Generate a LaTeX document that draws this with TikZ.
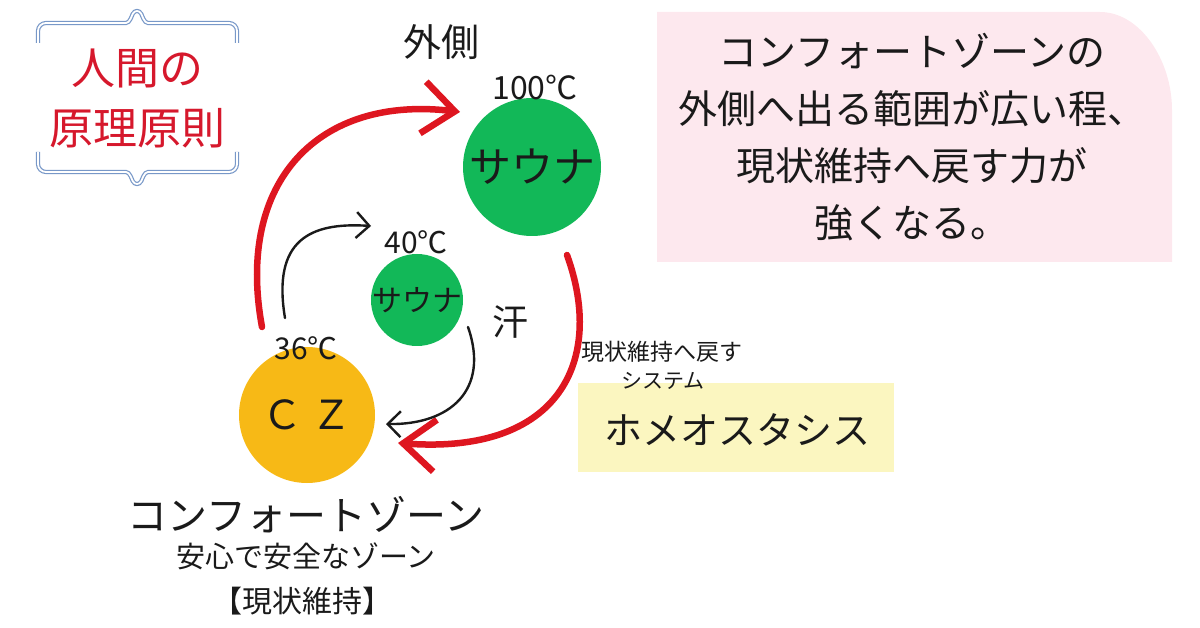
\documentclass[tikz,border=0pt]{standalone}
\usepackage{fontspec}
\setmainfont{Noto Sans CJK JP}
\usepackage{xcolor}
\usetikzlibrary{arrows.meta}

\definecolor{saunagreen}{RGB}{18,184,88}
\definecolor{czyellow}{RGB}{247,185,22}
\definecolor{loopred}{RGB}{222,22,32}
\definecolor{titlered}{RGB}{214,24,44}
\definecolor{frameblue}{RGB}{120,152,200}
\definecolor{notepink}{RGB}{253,232,238}
\definecolor{notebox}{RGB}{251,246,192}
\definecolor{ink}{RGB}{26,26,26}

\newcommand{\fsz}[1]{\fontsize{#1}{1.2\dimexpr#1pt\relax}\selectfont}

\begin{document}
\begin{tikzpicture}[x=1pt,y=-1pt,
	every node/.style={inner sep=0pt,text=ink},
	txt/.style={font=\fsz{#1}},
	zone/.style={circle,fill=#1,draw=none},
	redloop/.style={draw=loopred,line width=6.5pt,line cap=round,
		-{Straight Barb[length=32pt,width=52pt,line width=6.5pt]}},
	blackloop/.style={draw=ink,line width=2.4pt,line cap=round,
		-{Straight Barb[length=13pt,width=26pt,line width=2.4pt]}},
	frameline/.style={draw=frameblue,line width=1.2pt,double=white,double distance=1.8pt,rounded corners=8pt}
	]
	\useasboundingbox (0,0) rectangle (1200,628);
	%
	% title frame
	\draw[frameline] (38,43) -- (38,23) -- (118,23)
		.. controls (130,23) and (132,15) .. (137,7)
		.. controls (142,15) and (144,23) .. (156,23)
		-- (237,23) -- (237,43);
	\draw[frameline] (38,152) -- (38,172) -- (118,172)
		.. controls (130,172) and (132,180) .. (137,188)
		.. controls (142,180) and (144,172) .. (156,172)
		-- (237,172) -- (237,152);
	\node[txt=44,text=titlered] (title1) at (137,68) {人間の};
	\node[txt=44,text=titlered] (title2) at (137,128) {原理原則};
	%
	% note boxes
	\fill[notepink] (657,12) -- (1100,12) .. controls (1140,12) and (1172,60) .. (1172,110)
		-- (1172,262) -- (657,262) -- cycle;
	\node[align=center,font=\fontsize{39}{57}\selectfont] (note) at (912,137)
		{コンフォートゾーンの\\外側へ出る範囲が広い程、\\現状維持へ戻す力が\\強くなる。};
	\fill[notebox] (578,383) rectangle (894,472);
	\node[txt=38] (homeo) at (737,430) {ホメオスタシス};
	\node[txt=23] (back) at (662,352) {現状維持へ戻す};
	\node[txt=21] (system) at (663,381) {システム};
	%
	% zones
	\node[zone=saunagreen,minimum size=138pt] (hot) at (532,167) {};
	\node[txt=42] at (hot) {サウナ};
	\node[zone=saunagreen,minimum size=92pt] (warm) at (417,300) {};
	\node[txt=30] at (warm) {サウナ};
	\node[zone=czyellow,minimum size=136pt] (cz) at (307,415) {};
	\node[txt=40] at (cz) {Ｃ Ｚ};
	%
	\node[txt=38] (outside) at (441,42) {外側};
	\node[txt=32] (t100) at (535,88) {100℃};
	\node[txt=30] (t40) at (416,242) {40℃};
	\node[txt=30] (t36) at (306,348) {36℃};
	\node[txt=36] (sweat) at (510,322) {汗};
	%
	\node[txt=40] (czname) at (306,515) {コンフォートゾーン};
	\node[txt=29] (czsafe) at (306,556) {安心で安全なゾーン};
	\node[txt=30] (czkeep) at (302,601) {【現状維持】};
	%
	% loops
	\coordinate (r1s) at (262,327);
	\coordinate (r1e) at (460,112);
	\coordinate (r2s) at (567,255);
	\coordinate (r2e) at (398,443);
	\coordinate (b1s) at (285,318);
	\coordinate (b1e) at (371,226);
	\coordinate (b2s) at (468,327);
	\coordinate (b2e) at (386,424);
	\draw[redloop] (r1s) .. controls (235,180) and (320,95) .. (r1e);
	\draw[redloop] (r2s) .. controls (605,360) and (560,455) .. (r2e);
	\draw[blackloop] (b1s) .. controls (272,240) and (310,222) .. (b1e);
	\draw[blackloop] (b2s) .. controls (490,390) and (450,425) .. (b2e);
\end{tikzpicture}
\end{document}
